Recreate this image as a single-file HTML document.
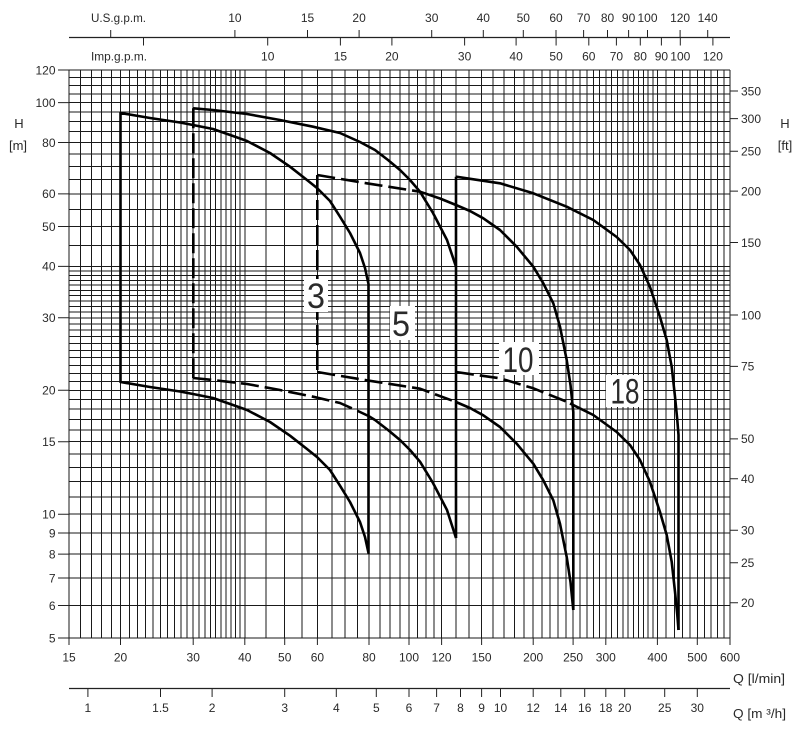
<!DOCTYPE html>
<html>
<head>
<meta charset="utf-8">
<style>
html,body{margin:0;padding:0;background:#fff;}
svg{display:block;}
text{font-family:"Liberation Sans",Arial,sans-serif;fill:#2a2a2a;}
</style>
</head>
<body>
<svg width="800" height="738" viewBox="0 0 800 738" xmlns="http://www.w3.org/2000/svg">
<rect width="800" height="738" fill="#fff"/>

<!-- vertical grid -->
<path fill="none" stroke="#1a1a1a" stroke-width="1" shape-rendering="crispEdges" d="M69 70V638M80.6 70V638M91.4 70V638M101.7 70V638M111.4 70V638M120.5 70V638M129.3 70V638M137.6 70V638M145.6 70V638M153.2 70V638M160.5 70V638M167.6 70V638M174.3 70V638M180.8 70V638M187.1 70V638M193.2 70V638M199.1 70V638M204.8 70V638M210.3 70V638M215.6 70V638M220.8 70V638M225.9 70V638M230.8 70V638M235.6 70V638M240.2 70V638M244.8 70V638M265.9 70V638M284.7 70V638M301.8 70V638M317.4 70V638M331.8 70V638M345 70V638M357.4 70V638M369 70V638M379.8 70V638M390.1 70V638M399.8 70V638M409 70V638M417.7 70V638M426 70V638M434 70V638M441.6 70V638M456 70V638M469.2 70V638M481.6 70V638M493.2 70V638M504 70V638M514.3 70V638M524 70V638M533.2 70V638M541.9 70V638M550.2 70V638M558.2 70V638M565.8 70V638M573.1 70V638M580.2 70V638M586.9 70V638M593.4 70V638M599.7 70V638M605.8 70V638M611.7 70V638M617.4 70V638M622.9 70V638M628.2 70V638M633.4 70V638M638.5 70V638M643.4 70V638M648.2 70V638M652.8 70V638M657.4 70V638M666.1 70V638M674.4 70V638M682.4 70V638M690 70V638M697.3 70V638M704.4 70V638M711.1 70V638M717.6 70V638M723.9 70V638M730 70V638"/>

<!-- horizontal grid -->
<path fill="none" stroke="#1a1a1a" stroke-width="1" shape-rendering="crispEdges" d="M69 70H730M69 77.6H730M69 85.6H730M69 93.9H730M69 102.6H730M69 111.8H730M69 121.4H730M69 131.6H730M69 142.5H730M69 154H730M69 166.4H730M69 179.6H730M69 193.9H730M69 209.5H730M69 226.5H730M69 245.3H730M69 266.4H730M69 270.9H730M69 275.6H730M69 280.3H730M69 285.2H730M69 290.3H730M69 295.4H730M69 300.8H730M69 306.3H730M69 311.9H730M69 317.8H730M69 323.9H730M69 330.1H730M69 336.6H730M69 343.4H730M69 350.4H730M69 357.7H730M69 365.3H730M69 373.3H730M69 381.6H730M69 390.3H730M69 399.5H730M69 409.1H730M69 419.3H730M69 430.2H730M69 441.7H730M69 454H730M69 467.3H730M69 481.6H730M69 497.2H730M69 514.2H730M69 533H730M69 554.1H730M69 578H730M69 605.5H730M69 638H730"/>

<!-- axis ticks -->
<path fill="none" stroke="#222" stroke-width="1" d="M58 70H69M58 102.6H69M58 142.5H69M58 193.9H69M58 226.5H69M58 266.4H69M58 317.8H69M58 390.3H69M58 441.7H69M58 514.2H69M58 533H69M58 554.1H69M58 578H69M58 605.5H69M58 638H69
M730 91H738M730 118.6H738M730 151.2H738M730 191.1H738M730 242.5H738M730 315H738M730 366.4H738M730 438.9H738M730 478.8H738M730 530.2H738M730 562.8H738M730 602.7H738
M69 638V645M120.5 638V645M193.2 638V645M244.8 638V645M284.7 638V645M317.4 638V645M369 638V645M409 638V645M441.6 638V645M481.6 638V645M533.2 638V645M573.1 638V645M605.8 638V645M657.4 638V645M697.3 638V645M730 638V645"/>

<!-- top scales -->
<path fill="none" stroke="#222" stroke-width="1.2" d="M69 37.5H730"/>
<path fill="none" stroke="#222" stroke-width="1" d="M110.7 30V37.5M234.9 30V37.5M307.5 30V37.5M359.1 30V37.5M431.7 30V37.5M483.3 30V37.5M523.3 30V37.5M556 30V37.5M583.6 30V37.5M607.5 30V37.5M628.6 30V37.5M647.5 30V37.5M680.1 30V37.5M707.7 30V37.5
M143.5 37.5V45.5M267.7 37.5V45.5M340.4 37.5V45.5M391.9 37.5V45.5M464.6 37.5V45.5M516.1 37.5V45.5M556.1 37.5V45.5M588.8 37.5V45.5M616.4 37.5V45.5M640.3 37.5V45.5M661.4 37.5V45.5M680.3 37.5V45.5M712.9 37.5V45.5"/>

<!-- bottom m3/h scale -->
<path fill="none" stroke="#222" stroke-width="1.2" d="M69 688.5H730"/>
<path fill="none" stroke="#222" stroke-width="1" d="M87.9 688.5V697M160.5 688.5V697M212.1 688.5V697M284.7 688.5V697M336.3 688.5V697M376.3 688.5V697M409 688.5V697M436.6 688.5V697M460.5 688.5V697M481.6 688.5V697M500.5 688.5V697M533.2 688.5V697M560.8 688.5V697M584.7 688.5V697M605.8 688.5V697M624.7 688.5V697M664.7 688.5V697M697.3 688.5V697"/>

<!-- curves -->
<g fill="none" stroke="#000" stroke-width="2.6" stroke-linejoin="round" stroke-linecap="butt">
  <!-- model 3 -->
  <path d="M120.5 382V113L150 118L180 122.5L193 125L213 129L233 136L247 141L270 153L290 166.7L307 180L317 188L330 201L340 216.7L350 233L360 253L365 268L368.5 284V553L365 537L360 522L350 502L340 485.7L330 470L317 457L307 449L290 435.7L270 422L247 410L233 405L213 398L193 394L180 391.5L150 387L120.5 382Z"/>
  <!-- model 5 -->
  <polyline points="193.3,108.3 213,110 247,114 280,120 313,126.7 340,133 360,142 375,150 388,160 400,170 410,180 420,191.7 433,213 447,240 456,266.7"/>
  <path d="M193.3 108.3V378" stroke-dasharray="20 5"/>
  <polyline points="193.3,378 213,380 247,384 280,390 313,396.7 340,403 360,412 368.5,416" stroke-dasharray="18 6"/>
  <polyline points="368.5,416 375,420 388,430 400,440 410,450 420,461.7 433,483 447,510 456,538"/>
  <path d="M456 176.7V538"/>
  <!-- model 10 -->
  <path d="M317.3 175V372" stroke-dasharray="20 5"/>
  <polyline points="317.3,175 366.7,183.3 420,191.7" stroke-dasharray="18 6"/>
  <polyline points="420,191.7 440,198.5 456,205 470,211 483.3,218.3 500,230 516.7,246.7 533.3,266.7 543.3,283.3 553.3,303.3 560,326.7 566.7,360 570.5,385 573.3,412 573.3,610"/>
  <polyline points="317.3,372 366.7,380.3 420,388.7 456,402" stroke-dasharray="18 6"/>
  <polyline points="456,402 470,408 483.3,415.3 500,427 516.7,443.7 533.3,463.7 543.3,480.3 553.3,500.3 560,523.7 566.7,557 570.5,582 573.3,610"/>
  <!-- model 18 -->
  <polyline points="456,176.7 500,183.3 533.3,193.3 566.7,206.7 593.3,220 616.7,237 630,250 640,265 650,287 660,317 666.7,340 671.7,366.7 675,396.7 677.3,420 678.5,435 678.5,630"/>
  <polyline points="456,372 500,378.3 533.3,388.3 566.7,401.7 570,403.4" stroke-dasharray="18 6"/>
  <polyline points="570,403.4 593.3,415 616.7,432 630,445 640,460 650,482 660,512 666.7,535 671.7,561.7 675,591.7 677.3,615 678.5,630"/>
</g>

<!-- curve labels -->
<rect x="304" y="279" width="24" height="33" fill="#fff"/>
<text x="316" y="308" font-size="35" text-anchor="middle" textLength="18" lengthAdjust="spacingAndGlyphs">3</text>
<rect x="390" y="306" width="25" height="34" fill="#fff"/>
<text x="401" y="336" font-size="35" text-anchor="middle" textLength="18" lengthAdjust="spacingAndGlyphs">5</text>
<rect x="499" y="342" width="40" height="33" fill="#fff"/>
<text x="518" y="372" font-size="35" text-anchor="middle" textLength="31" lengthAdjust="spacingAndGlyphs">10</text>
<rect x="606" y="375" width="37" height="32" fill="#fff"/>
<text x="625" y="403.5" font-size="35" text-anchor="middle" textLength="29" lengthAdjust="spacingAndGlyphs">18</text>

<!-- left axis labels -->
<g font-size="12" text-anchor="end">
<text x="55.5" y="74.3">120</text>
<text x="55.5" y="106.9">100</text>
<text x="55.5" y="146.8">80</text>
<text x="55.5" y="198.2">60</text>
<text x="55.5" y="230.8">50</text>
<text x="55.5" y="270.7">40</text>
<text x="55.5" y="322.1">30</text>
<text x="55.5" y="394.6">20</text>
<text x="55.5" y="446">15</text>
<text x="55.5" y="518.5">10</text>
<text x="55.5" y="537.3">9</text>
<text x="55.5" y="558.4">8</text>
<text x="55.5" y="582.3">7</text>
<text x="55.5" y="609.8">6</text>
<text x="55.5" y="642.3">5</text>
</g>
<text x="19" y="128" font-size="13" text-anchor="middle">H</text>
<text x="18" y="150" font-size="13" text-anchor="middle">[m]</text>

<!-- right axis labels -->
<g font-size="12" text-anchor="start">
<text x="741" y="95.3">350</text>
<text x="741" y="122.9">300</text>
<text x="741" y="155.5">250</text>
<text x="741" y="195.4">200</text>
<text x="741" y="246.8">150</text>
<text x="741" y="319.3">100</text>
<text x="741" y="370.7">75</text>
<text x="741" y="443.2">50</text>
<text x="741" y="483.1">40</text>
<text x="741" y="534.5">30</text>
<text x="741" y="567.1">25</text>
<text x="741" y="607">20</text>
</g>
<text x="785" y="128" font-size="13" text-anchor="middle">H</text>
<text x="785" y="150" font-size="13" text-anchor="middle">[ft]</text>

<!-- bottom l/min labels -->
<g font-size="12" text-anchor="middle">
<text x="69" y="661.5">15</text>
<text x="120.5" y="661.5">20</text>
<text x="193.2" y="661.5">30</text>
<text x="244.8" y="661.5">40</text>
<text x="284.7" y="661.5">50</text>
<text x="317.4" y="661.5">60</text>
<text x="369" y="661.5">80</text>
<text x="409" y="661.5">100</text>
<text x="441.6" y="661.5">120</text>
<text x="481.6" y="661.5">150</text>
<text x="533.2" y="661.5">200</text>
<text x="573.1" y="661.5">250</text>
<text x="605.8" y="661.5">300</text>
<text x="657.4" y="661.5">400</text>
<text x="697.3" y="661.5">500</text>
<text x="730" y="661.5">600</text>
</g>
<text x="733" y="683" font-size="13" textLength="52" lengthAdjust="spacingAndGlyphs">Q [l/min]</text>

<!-- bottom m3/h labels -->
<g font-size="12" text-anchor="middle">
<text x="87.9" y="712">1</text>
<text x="160.5" y="712">1.5</text>
<text x="212.1" y="712">2</text>
<text x="284.7" y="712">3</text>
<text x="336.3" y="712">4</text>
<text x="376.3" y="712">5</text>
<text x="409" y="712">6</text>
<text x="436.6" y="712">7</text>
<text x="460.5" y="712">8</text>
<text x="481.6" y="712">9</text>
<text x="500.5" y="712">10</text>
<text x="533.2" y="712">12</text>
<text x="560.8" y="712">14</text>
<text x="584.7" y="712">16</text>
<text x="605.8" y="712">18</text>
<text x="624.7" y="712">20</text>
<text x="664.7" y="712">25</text>
<text x="697.3" y="712">30</text>
</g>
<text x="733" y="718" font-size="13" textLength="53" lengthAdjust="spacingAndGlyphs">Q [m ³/h]</text>

<!-- top US gpm labels -->
<text x="91" y="22" font-size="12" textLength="55" lengthAdjust="spacingAndGlyphs">U.S.g.p.m.</text>
<g font-size="12" text-anchor="middle">
<text x="234.9" y="22">10</text>
<text x="307.5" y="22">15</text>
<text x="359.1" y="22">20</text>
<text x="431.7" y="22">30</text>
<text x="483.3" y="22">40</text>
<text x="523.3" y="22">50</text>
<text x="556" y="22">60</text>
<text x="583.6" y="22">70</text>
<text x="607.5" y="22">80</text>
<text x="628.6" y="22">90</text>
<text x="647.5" y="22">100</text>
<text x="680.1" y="22">120</text>
<text x="707.7" y="22">140</text>
</g>

<!-- top Imp gpm labels -->
<text x="91" y="60.5" font-size="12" textLength="56" lengthAdjust="spacingAndGlyphs">Imp.g.p.m.</text>
<g font-size="12" text-anchor="middle">
<text x="267.7" y="60.5">10</text>
<text x="340.4" y="60.5">15</text>
<text x="391.9" y="60.5">20</text>
<text x="464.6" y="60.5">30</text>
<text x="516.1" y="60.5">40</text>
<text x="556.1" y="60.5">50</text>
<text x="588.8" y="60.5">60</text>
<text x="616.4" y="60.5">70</text>
<text x="640.3" y="60.5">80</text>
<text x="661.4" y="60.5">90</text>
<text x="680.3" y="60.5">100</text>
<text x="712.9" y="60.5">120</text>
</g>
</svg>
</body>
</html>
